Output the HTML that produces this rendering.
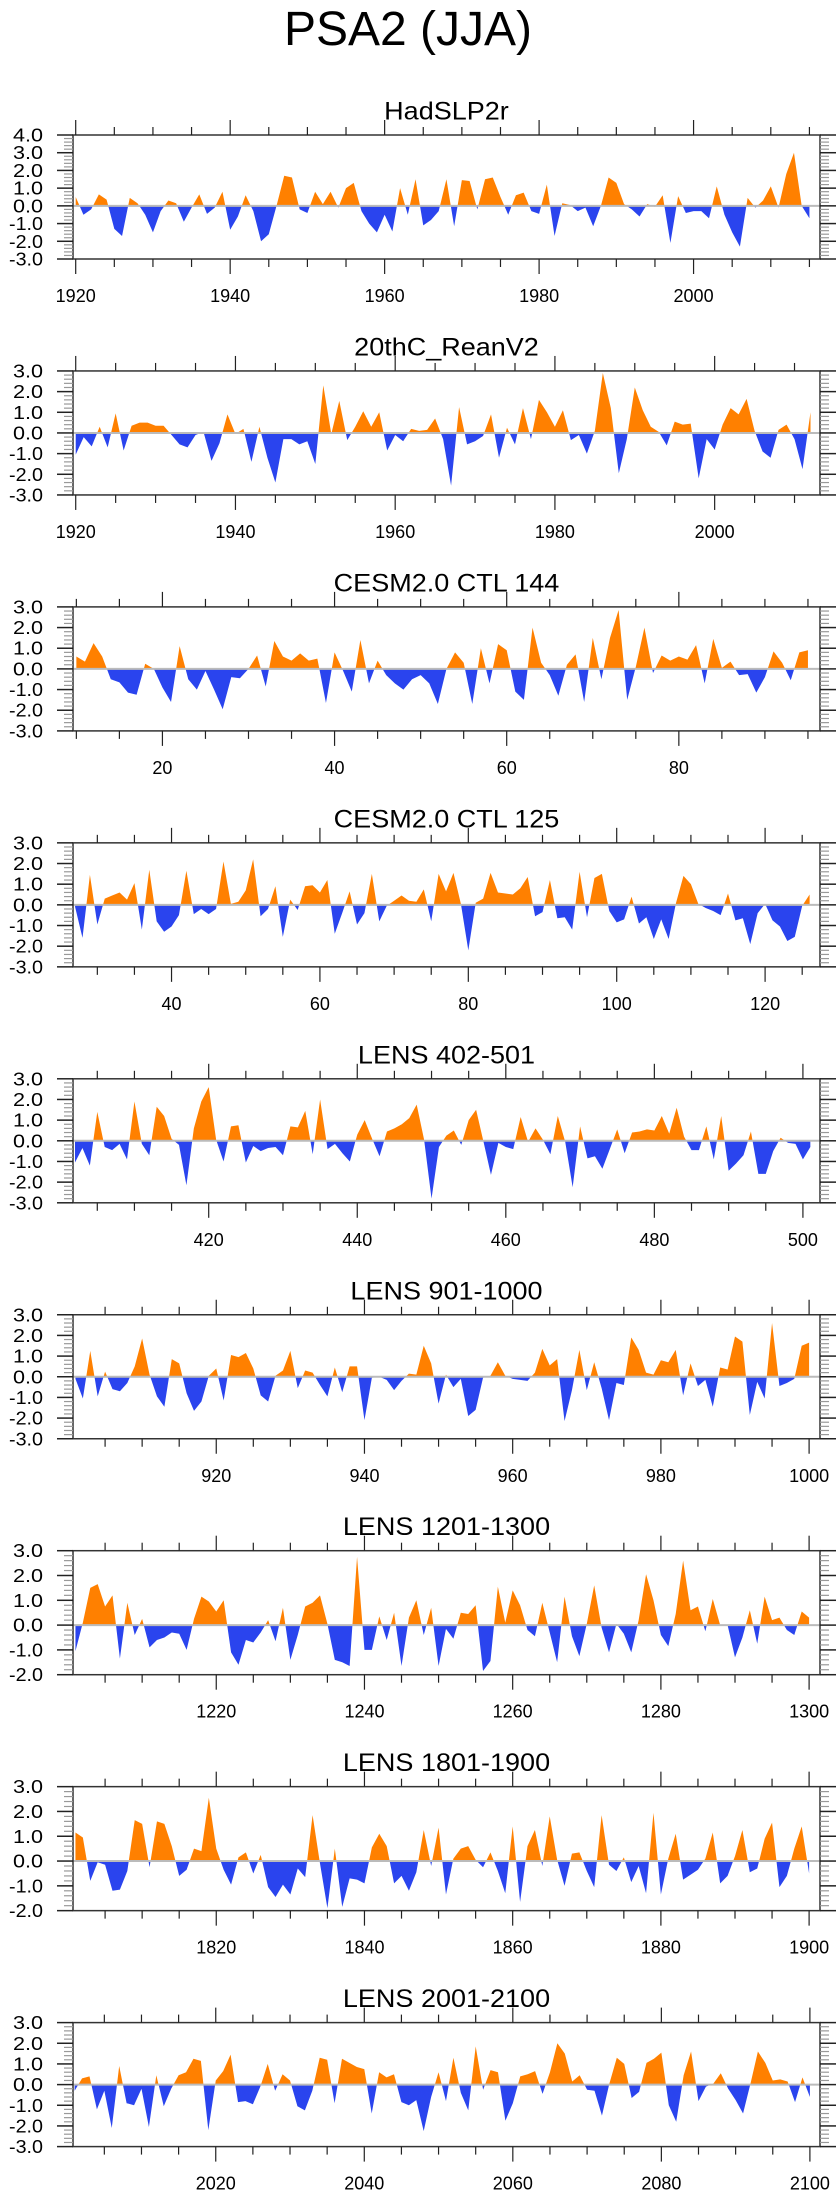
<!DOCTYPE html>
<html><head><meta charset="utf-8"><style>
html,body{margin:0;padding:0;background:#fff;}
svg text{font-family:"Liberation Sans",sans-serif;fill:#000;}
</style></head><body>
<svg id="chart" width="840" height="2200" viewBox="0 0 840 2200" xmlns="http://www.w3.org/2000/svg">
<text x="408" y="45" font-size="48" text-anchor="middle">PSA2 (JJA)</text>
</svg>
<script>
const titles = ["HadSLP2r","20thC_ReanV2","CESM2.0 CTL 144","CESM2.0 CTL 125","LENS 402-501","LENS 901-1000","LENS 1201-1300","LENS 1801-1900","LENS 2001-2100"];
const startYears = [1920,1920,10,27,402,901,1201,1801,2001];
const xDomains = [[1919.65,2016.37],[1919.66,2013.19],[9.61,96.4],[26.72,127.4],[401.73,502.3],[900.67,1001.47],[1200.67,1301.47],[1800.67,1901.47],[2000.78,2101.36]];
const yDomains = [[-3,4],[-3,3],[-3,3],[-3,3],[-3,3],[-3,3],[-2,3],[-2,3],[-3,3]];
const xTickLabels = [[1920,1940,1960,1980,2000],[1920,1940,1960,1980,2000],[20,40,60,80],[40,60,80,100,120],[420,440,460,480,500],[920,940,960,980,1000],[1220,1240,1260,1280,1300],[1820,1840,1860,1880,1900],[2020,2040,2060,2080,2100]];
const p1 = [0.5,-0.5,-0.2,0.65,0.35,-1.3,-1.7,0.45,0.15,-0.5,-1.5,-0.3,0.3,0.15,-0.9,-0.1,0.65,-0.45,-0.1,0.8,-1.35,-0.6,0.6,-0.3,-2.0,-1.6,0.0,1.7,1.6,-0.2,-0.4,0.8,0.1,0.8,-0.1,1.0,1.3,-0.3,-1.0,-1.5,-0.5,-1.45,1.0,-0.5,1.5,-1.1,-0.8,-0.3,1.5,-1.15,1.45,1.4,-0.2,1.5,1.6,0.5,-0.5,0.6,0.75,-0.3,-0.45,1.2,-1.7,0.15,0.05,-0.3,-0.1,-1.15,0.0,1.6,1.3,0.1,-0.2,-0.6,0.1,-0.05,0.6,-2.1,0.55,-0.4,-0.3,-0.3,-0.7,1.1,-0.5,-1.5,-2.3,0.45,-0.1,0.3,1.1,-0.1,1.8,3.0,0.0,-0.7];
const p2 = [-1.05,-0.2,-0.65,0.3,-0.7,0.95,-0.85,0.35,0.5,0.5,0.35,0.35,-0.1,-0.55,-0.7,-0.1,0.05,-1.35,-0.5,0.9,-0.05,0.2,-1.4,0.3,-1.2,-2.4,-0.3,-0.3,-0.55,-0.4,-1.5,2.3,-0.05,1.55,-0.35,0.3,1.05,0.3,1.0,-0.85,-0.1,-0.4,0.2,0.1,0.15,0.7,-0.3,-2.55,1.25,-0.55,-0.4,-0.15,0.9,-1.2,0.25,-0.55,1.2,-0.3,1.6,1.0,0.3,1.1,-0.35,-0.1,-1.0,0.1,2.9,1.2,-1.95,-0.3,2.2,1.1,0.3,0.05,-0.6,0.55,0.4,0.45,-2.2,-0.3,-0.8,0.4,1.2,0.9,1.65,0.1,-0.9,-1.2,0.15,0.4,-0.3,-1.75,1.0];
const p3 = [0.6,0.35,1.25,0.6,-0.5,-0.65,-1.15,-1.25,0.25,0.0,-0.9,-1.6,1.1,-0.5,-1.0,-0.1,-1.0,-1.95,-0.4,-0.45,0.0,0.65,-0.85,1.35,0.6,0.4,0.75,0.4,0.5,-1.65,0.8,-0.1,-1.1,1.4,-0.7,0.4,-0.3,-0.7,-1.0,-0.5,-0.3,-0.7,-1.7,0.0,0.8,0.3,-1.7,1.0,-0.7,1.2,0.9,-1.1,-1.5,2.0,0.3,-0.3,-1.3,0.2,0.7,-1.6,1.5,-0.5,1.5,2.85,-1.5,0.1,2.0,-0.2,0.65,0.4,0.6,0.45,1.15,-0.7,1.45,0.05,0.35,-0.3,-0.25,-1.15,-0.4,0.85,0.3,-0.55,0.8,0.9];
const p4 = [-0.1,-1.6,1.45,-0.95,0.3,0.45,0.6,0.25,1.05,-1.2,1.7,-0.8,-1.3,-1.05,-0.5,1.65,-0.45,-0.2,-0.45,-0.2,2.1,0.05,0.15,0.7,2.2,-0.55,-0.2,0.9,-1.55,0.25,-0.25,0.9,0.95,0.6,1.2,-1.4,-0.4,0.65,-0.95,-0.4,1.5,-0.8,-0.05,0.2,0.45,0.2,0.15,0.75,-0.8,1.5,0.65,1.55,0.05,-2.2,0.1,0.3,1.55,0.6,0.55,0.5,0.8,1.35,-0.55,-0.35,1.2,-0.65,-0.6,-1.2,1.6,-0.6,1.3,1.5,-0.3,-0.85,-0.7,0.4,-0.9,-0.6,-1.65,-0.7,-1.65,0.1,1.4,1.0,0.05,-0.15,-0.3,-0.5,0.55,-0.75,-0.65,-1.9,-0.4,0.05,-0.75,-1.05,-1.75,-1.55,-0.05,0.5];
const p5 = [-1.05,-0.35,-1.2,1.4,-0.3,-0.45,-0.15,-0.9,1.9,-0.15,-0.7,1.65,1.2,0.1,-0.2,-2.15,0.6,1.9,2.6,0.05,-1.0,0.7,0.75,-1.05,-0.25,-0.5,-0.35,-0.3,-0.7,0.7,0.65,1.45,-0.65,2.0,-0.4,-0.15,-0.6,-1.0,0.3,1.0,0.1,-0.75,0.45,0.6,0.8,1.1,1.75,0.05,-2.8,-0.3,0.25,0.5,-0.2,1.0,1.5,-0.05,-1.65,-0.1,-0.3,-0.4,1.15,-0.05,0.6,0.05,-0.65,1.2,-0.05,-2.25,0.7,-0.85,-0.75,-1.35,-0.4,0.55,-0.6,0.4,0.45,0.55,0.5,1.2,0.35,1.6,0.2,-0.45,-0.45,0.7,-0.9,1.2,-1.45,-1.1,-0.7,0.45,-1.6,-1.6,-0.5,0.15,-0.1,-0.15,-0.9,-0.3];
const p6 = [-0.1,-1.05,1.25,-0.95,0.25,-0.6,-0.7,-0.3,0.5,1.85,0.1,-0.95,-1.45,0.85,0.65,-0.8,-1.65,-1.2,0.05,0.4,-1.15,1.05,0.95,1.15,0.4,-0.9,-1.2,0.05,0.3,1.25,-0.55,0.3,0.2,-0.4,-0.95,0.45,-0.75,0.5,0.5,-2.1,-0.05,0.0,-0.15,-0.65,-0.2,0.15,0.1,1.5,0.65,-1.3,0.1,-0.5,-0.1,-1.9,-1.6,-0.05,0.05,0.7,0.05,-0.1,-0.15,-0.2,0.2,1.35,0.55,0.85,-2.15,-0.65,1.3,-0.65,0.7,-0.55,-2.1,-0.3,-0.4,1.9,1.3,0.2,0.1,0.8,0.7,1.3,-0.9,0.65,-0.45,-0.15,-1.45,0.45,0.35,1.95,1.7,-1.85,-0.25,-1.05,2.6,-0.45,-0.3,-0.1,1.5,1.65];
const p7 = [-1.05,0.1,1.5,1.65,0.75,1.2,-1.35,0.9,-0.4,0.25,-0.9,-0.6,-0.5,-0.3,-0.35,-1.0,0.25,1.15,0.95,0.55,1.0,-1.1,-1.6,-0.6,-0.7,-0.3,0.2,-0.65,0.7,-1.4,-0.4,0.75,0.9,1.2,0.05,-1.4,-1.5,-1.65,2.75,-1.0,-1.0,0.35,-0.6,0.5,-1.65,0.3,1.0,-0.4,0.7,-1.65,-0.15,-0.55,0.5,0.45,0.8,-1.85,-1.45,1.55,0.1,1.4,0.8,-0.2,-0.45,0.9,-0.3,-1.5,1.15,-0.45,-1.25,0.05,1.6,-0.1,-1.1,0.05,-0.35,-1.1,0.2,2.05,1.0,-0.4,-0.85,0.45,2.6,0.6,0.75,-0.25,1.05,0.0,0.0,-1.3,-0.5,0.6,-0.75,1.15,0.2,0.3,-0.2,-0.4,0.55,0.3];
const p8 = [1.15,0.95,-0.8,-0.05,-0.15,-1.2,-1.15,-0.4,1.65,1.5,-0.25,1.6,1.5,0.6,-0.6,-0.35,0.5,0.4,2.55,0.5,-0.35,-0.95,0.15,0.35,-0.5,0.25,-1.05,-1.45,-0.95,-1.35,-0.3,-0.65,1.85,-0.1,-1.9,0.5,-1.85,-0.7,-0.75,-0.9,0.55,1.1,0.6,-0.9,-0.6,-1.2,-0.45,1.25,-0.2,1.35,-1.35,0.1,0.5,0.6,0.05,-0.25,0.35,-0.4,-1.3,1.4,-1.65,0.6,1.25,-0.2,1.8,0.05,-1.0,0.3,0.35,-0.4,-1.05,1.85,-0.15,-0.4,0.15,-0.85,-0.2,-1.3,1.95,-1.35,0.1,1.1,-0.75,-0.55,-0.35,0.1,1.15,-0.9,-0.6,0.2,1.25,-0.45,-0.3,0.9,1.55,-1.05,-0.6,0.5,1.4,-0.5];
const p9 = [-0.3,0.3,0.4,-1.2,-0.3,-2.1,0.9,-0.9,-1.0,-0.2,-2.05,0.45,-1.05,-0.2,0.45,0.6,1.25,1.15,-2.2,0.2,0.65,1.45,-0.85,-0.8,-0.95,-0.1,1.0,-0.3,0.5,0.2,-1.05,-1.25,-0.3,1.3,1.2,-0.9,1.25,1.05,0.85,0.75,-1.4,0.6,0.35,0.5,-0.85,-1.0,-0.75,-2.25,-0.6,0.6,-0.8,1.3,-0.4,-1.25,1.85,-0.25,0.7,0.6,-1.75,-0.9,0.4,0.5,0.65,-0.45,0.6,2.0,1.5,0.15,0.45,-0.25,-0.3,-1.5,0.05,1.3,1.0,-0.65,-0.35,1.05,1.25,1.55,-1.0,-1.8,0.45,1.6,-0.8,-0.1,0.05,0.55,-0.2,-0.75,-1.4,0.05,1.6,1.05,0.2,0.25,0.15,-0.85,0.35,-0.6];
const series = [p1,p2,p3,p4,p5,p6,p7,p8,p9];

const NS = "http://www.w3.org/2000/svg";
const svg = document.getElementById("chart");
const L = 73, R = 820, H = 124, TOP0 = 135, GAP = 235.95;
function mk(tag, attrs, parent){ const e = document.createElementNS(NS, tag); for (const k in attrs) e.setAttribute(k, attrs[k]); (parent||svg).appendChild(e); return e; }

series.forEach((vals, i) => {
  const top = TOP0 + i*GAP, bot = top + H;
  const [x0, x1] = xDomains[i], [y0, y1] = yDomains[i];
  const sx = v => L + (v - x0) / (x1 - x0) * (R - L);
  const sy = v => bot - (v - y0) / (y1 - y0) * H;
  const g = mk("g", {});
  
  
  const t = mk("text", {x: (L+R)/2, y: top - 15.5, "font-size": 25, "text-anchor": "middle"}, g);
  t.textContent = titles[i];
  
  
  const tw = t.getComputedTextLength();
  if (tw > 0) { t.setAttribute("textLength", (tw*1.08).toFixed(1)); t.setAttribute("lengthAdjust", "spacingAndGlyphs"); }
  const zy = sy(0);
  const cid = "c" + i;
  const defs = mk("defs", {}, g);
  const cp = mk("clipPath", {id: cid + "p"}, defs); mk("rect", {x: L, y: top, width: R-L, height: zy-top}, cp);
  const cn = mk("clipPath", {id: cid + "n"}, defs); mk("rect", {x: L, y: zy, width: R-L, height: bot-zy}, cn);
  let d = "M" + sx(startYears[i]) + "," + zy;
  vals.forEach((v, k) => { d += " L" + sx(startYears[i] + k).toFixed(2) + "," + sy(v).toFixed(2); });
  d += " L" + sx(startYears[i] + vals.length - 1) + "," + zy + " Z";
  const pos = mk("path", {d: d, fill: "#ff8000", "clip-path": "url(#" + cid + "p)"}, g);
  
  
  const neg = mk("path", {d: d, fill: "#2a44ee", "clip-path": "url(#" + cid + "n)"}, g);
  
  
  const zl = mk("line", {x1: L, x2: R, y1: zy, y2: zy, stroke: "#bbbbbb", "stroke-width": 2}, g);
  
  
  const box = mk("rect", {x: L, y: top, width: R-L, height: H, fill: "none", stroke: "#333", "stroke-width": 1.5}, g);
  
  
  const first = Math.ceil(x0/5)*5;
  for (let v = first; v <= x1; v += 5) {
    const x = sx(v), major = v % 20 === 0, len = major ? 15 : 8;
    mk("line", {x1: x, x2: x, y1: top, y2: top-len, stroke: "#222", "stroke-width": 1.2}, g);
    mk("line", {x1: x, x2: x, y1: bot, y2: bot+len, stroke: "#222", "stroke-width": 1.2}, g);
  }
  xTickLabels[i].forEach(v => {
    const lt = mk("text", {x: sx(v), y: bot + 43, "font-size": 18, "text-anchor": "middle"}, g);
    lt.textContent = v;
    
    
  });
  for (let k = Math.round(y0*5); k <= Math.round(y1*5); k++) {
    const y = sy(k/5), major = k % 5 === 0;
    const len = major ? 16 : 9, col = major ? "#222" : "#999";
    mk("line", {x1: L, x2: L-len, y1: y, y2: y, stroke: col, "stroke-width": major ? 1.5 : 1.2}, g);
    mk("line", {x1: R, x2: R+len, y1: y, y2: y, stroke: col, "stroke-width": major ? 1.5 : 1.2}, g);
    if (major) {
      const val = k/5;
      const yt = mk("text", {x: 43, y: y + 6.5, "font-size": 18, "text-anchor": "end", textLength: val < 0 ? 34 : 30, lengthAdjust: "spacingAndGlyphs"}, g);
      yt.textContent = val.toFixed(1);
      
      
    }
  }
});
</script>
</body></html>
